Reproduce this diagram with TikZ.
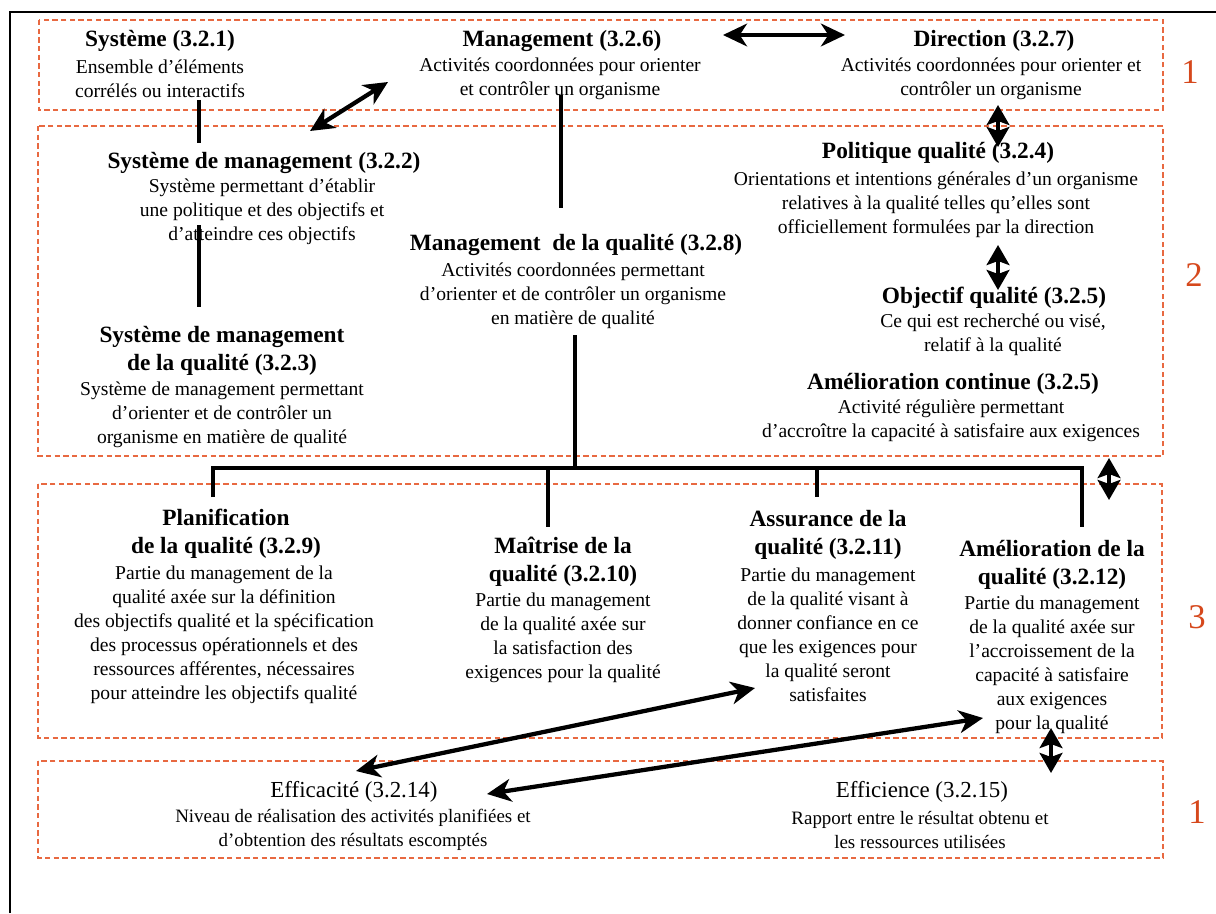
\documentclass[tikz,border=0pt]{standalone}
\usepackage{fontspec}
\setmainfont{Liberation Serif}
\usetikzlibrary{arrows.meta}
\definecolor{boxorange}{RGB}{232,105,65}
\definecolor{numred}{RGB}{214,72,28}
\begin{document}
\begin{tikzpicture}[x=0.75pt,y=-0.75pt,
  ttl/.style={font=\fontsize{17.5}{21}\selectfont\bfseries, align=center, inner sep=0pt},
  txt/.style={font=\fontsize{14.7}{18}\selectfont, align=center, inner sep=0pt},
  ttlr/.style={font=\fontsize{17.2}{21}\selectfont, align=center, inner sep=0pt},
  txts/.style={font=\fontsize{14.2}{18}\selectfont, align=center, inner sep=0pt},
  zone/.style={draw=boxorange, line width=1pt, dash pattern=on 4pt off 2.5pt},
  num/.style={text=numred, font=\fontsize{26}{26}\selectfont, inner sep=0pt},
  link/.style={line width=3.2pt, line join=miter},
  dbl/.style={line width=3.2pt, {Stealth[length=18pt,width=17pt,inset=5.5pt]}-{Stealth[length=18pt,width=17pt,inset=5.5pt]}},
  dblshort/.style={line width=3.2pt, {Stealth[length=15pt,width=17pt,inset=3pt]}-{Stealth[length=15pt,width=17pt,inset=3pt]}},
  ]
\useasboundingbox (0,0) rectangle (1216,913);
\fill[white] (0,0) rectangle (1216,913);
% outer frame
\draw[line width=1.5pt] (10,913) -- (10,12) -- (1216,12);
% zones
\draw[zone] (39,20) rectangle (1163,110);
\draw[zone] (38,126) rectangle (1163,456);
\draw[zone] (38,484) rectangle (1162,738);
\draw[zone] (38,761) rectangle (1163,858);
% zone numbers
\node[num] (n1) at (1190,72) {1};
\node[num] (n2) at (1194,275) {2};
\node[num] (n3) at (1197,617) {3};
\node[num] (n4) at (1197,812) {1};
% level 1
\node[ttl] (sysT) at (160,41) {Système (3.2.1)};
\node[txt] (sysD) at (160,79) {Ensemble d’éléments\\corrélés ou interactifs};
\node[ttl] (manT) at (562,41) {Management (3.2.6)};
\node[txt] (manD) at (560,79) {Activités coordonnées pour orienter\\et contrôler un organisme};
\node[ttl] (dirT) at (994,41) {Direction (3.2.7)};
\node[txt] (dirD) at (991,79) {Activités coordonnées pour orienter et\\contrôler un organisme};
% level 2
\node[ttl] (smT) at (264,163) {Système de management (3.2.2)};
\node[txt] (smD) at (262,212) {Système permettant d’établir\\une politique et des objectifs et\\d’atteindre ces objectifs};
\node[ttl] (smqT) at (222,351) {Système de management\\de la qualité (3.2.3)};
\node[txt] (smqD) at (222,415) {Système de management permettant\\d’orienter et de contrôler un\\organisme en matière de qualité};
\node[ttl] (mqT) at (576,245) {Management~~de la qualité (3.2.8)};
\node[txt] (mqD) at (573,296) {Activités coordonnées permettant\\d’orienter et de contrôler un organisme\\en matière de qualité};
\node[ttl] (pqT) at (938,153) {Politique qualité (3.2.4)};
\node[txt] (pqD) at (936,205) {Orientations et intentions générales d’un organisme\\relatives à la qualité telles qu’elles sont\\officiellement formulées par la direction};
\node[ttl] (oqT) at (994,298) {Objectif qualité (3.2.5)};
\node[txt] (oqD) at (993,335) {Ce qui est recherché ou visé,\\relatif à la qualité};
\node[ttl] (acT) at (953,384) {Amélioration continue (3.2.5)};
\node[txt] (acD) at (951,421) {Activité régulière permettant\\d’accroître la capacité à satisfaire aux exigences};
% level 3
\node[ttl] (plT) at (226,534) {Planification\\de la qualité (3.2.9)};
\node[txt] (plD) at (224,635) {Partie du management de la\\qualité axée sur la définition\\des objectifs qualité et la spécification\\des processus opérationnels et des\\ressources afférentes, nécessaires\\pour atteindre les objectifs qualité};
\node[ttl] (maT) at (563,562) {Maîtrise de la\\qualité (3.2.10)};
\node[txt] (maD) at (563,638) {Partie du management\\de la qualité axée sur\\la satisfaction des\\exigences pour la qualité};
\node[ttl] (asT) at (828,535) {Assurance de la\\qualité (3.2.11)};
\node[txt] (asD) at (828,635) {Partie du management\\de la qualité visant à\\donner confiance en ce\\que les exigences pour\\la qualité seront\\satisfaites};
\node[ttl] (amT) at (1052,565) {Amélioration de la\\qualité (3.2.12)};
\node[txt] (amD) at (1052,665) {Partie du management\\de la qualité axée sur\\l’accroissement de la\\capacité à satisfaire\\aux exigences\\pour la qualité};
% level 4
\node[ttlr] (efT) at (354,792) {Efficacité (3.2.14)};
\node[txts] (efD) at (353,830) {Niveau de réalisation des activités planifiées et\\d’obtention des résultats escomptés};
\node[ttlr] (eiT) at (922,792) {Efficience (3.2.15)};
\node[txts] (eiD) at (920,830) {Rapport entre le résultat obtenu et\\les ressources utilisées};
% connector end points
\coordinate (s1) at (199,100); \coordinate (s2) at (199,143);
\coordinate (s3) at (199,225); \coordinate (s4) at (199,307);
\coordinate (m1) at (561,95);  \coordinate (m2) at (561,208);
\coordinate (q1) at (575,335); \coordinate (q2) at (575,468);
\coordinate (b1) at (213,497); \coordinate (b1t) at (213,468);
\coordinate (b4t) at (1082,468); \coordinate (b4) at (1082,527);
\coordinate (b2t) at (548,468); \coordinate (b2) at (548,527);
\coordinate (b3t) at (817,468); \coordinate (b3) at (817,497);
\coordinate (a1) at (723,35);  \coordinate (a2) at (845,35);
\coordinate (a3) at (388,82);  \coordinate (a4) at (310,131);
\coordinate (a5) at (998,105); \coordinate (a6) at (998,147);
\coordinate (a7) at (998,245); \coordinate (a8) at (998,290);
\coordinate (a9) at (1109,458); \coordinate (a10) at (1109,500);
\coordinate (a11) at (356,771); \coordinate (a12) at (755,688);
\coordinate (a13) at (487,794); \coordinate (a14) at (983,718);
\coordinate (a15) at (1051,728); \coordinate (a16) at (1051,773);
% tree lines
\draw[link] (s1) -- (s2);
\draw[link] (s3) -- (s4);
\draw[link] (m1) -- (m2);
\draw[link] (q1) -- (q2);
\draw[link] (b1) -- (b1t) -- (b4t) -- (b4);
\draw[link] (b2t) -- (b2);
\draw[link] (b3t) -- (b3);
% arrows
\draw[dbl] (a1) -- (a2);
\draw[dbl] (a3) -- (a4);
\draw[dblshort] (a5) -- (a6);
\draw[dblshort] (a7) -- (a8);
\draw[dblshort] (a9) -- (a10);
\draw[dbl] (a11) -- (a12);
\draw[dbl] (a13) -- (a14);
\draw[dblshort] (a15) -- (a16);
\end{tikzpicture}
\end{document}
